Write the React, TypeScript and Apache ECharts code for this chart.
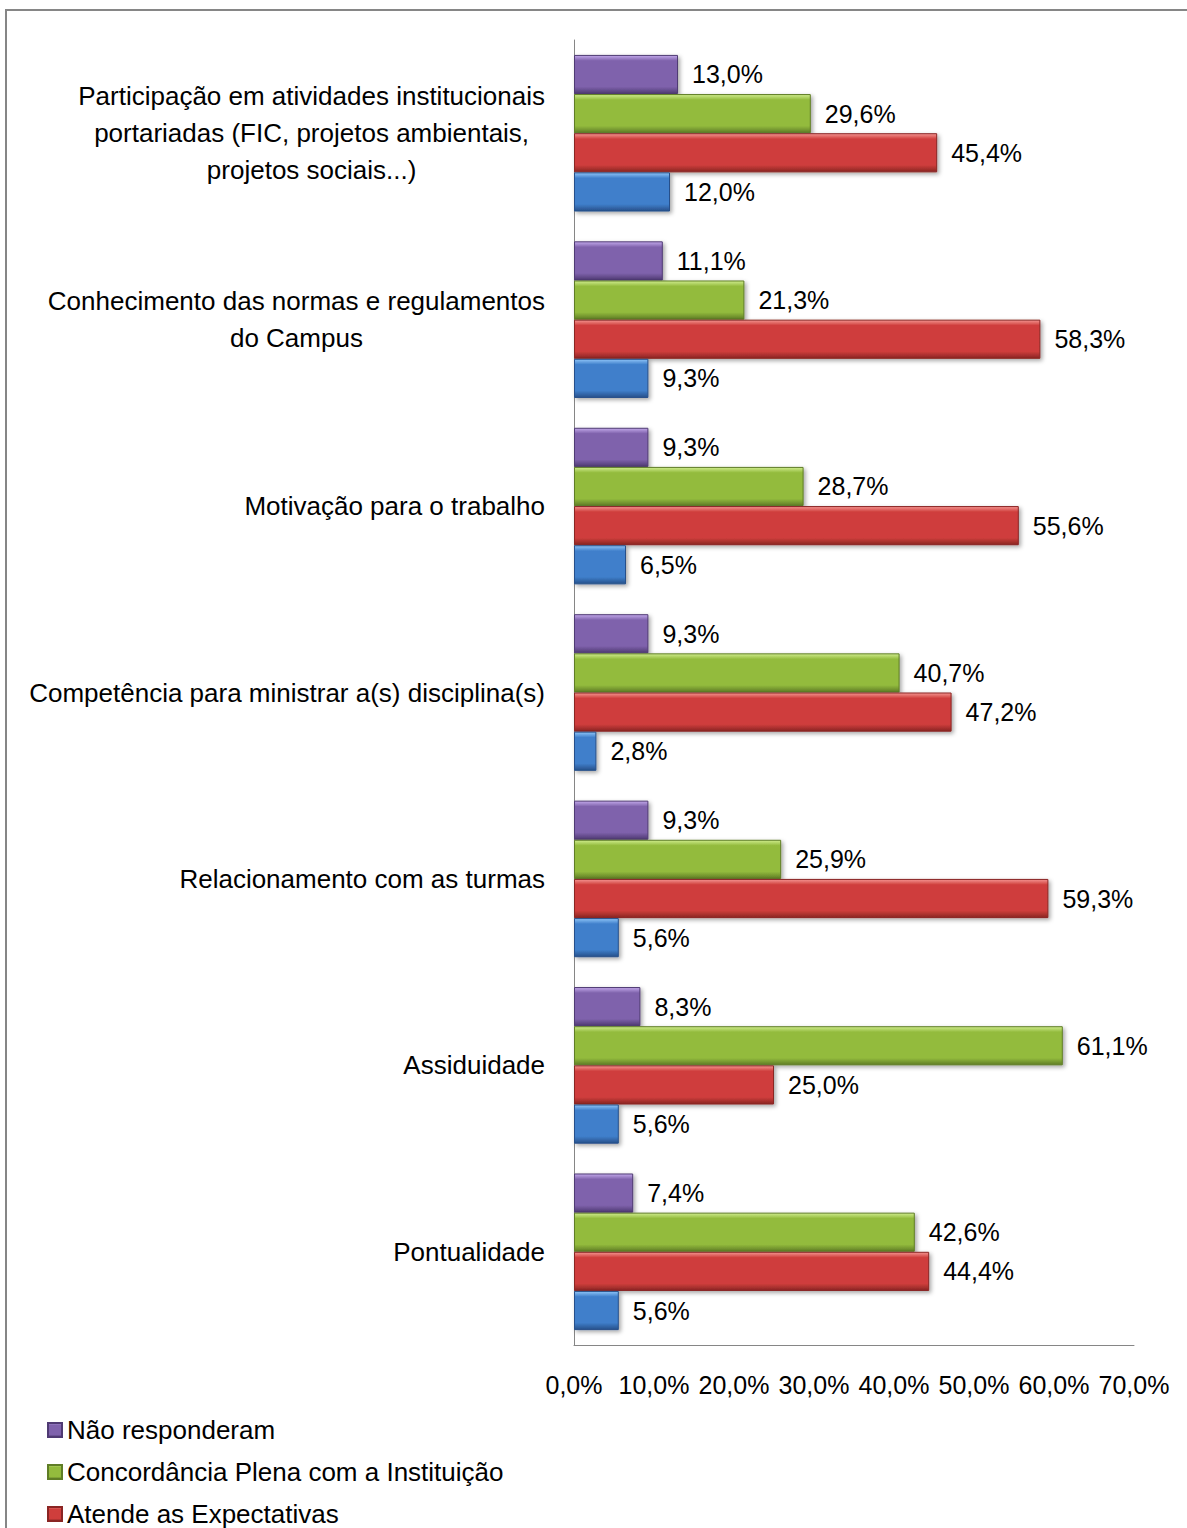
import React, { useEffect, useRef } from "react";
import * as echarts from "echarts";

const categories = [
  "Participação em atividades institucionais\nportariadas (FIC, projetos ambientais,\nprojetos sociais...)",
  "Conhecimento das normas e regulamentos\ndo Campus",
  "Motivação para o trabalho",
  "Competência para ministrar a(s) disciplina(s)",
  "Relacionamento com as turmas",
  "Assiduidade",
  "Pontualidade",
];

const seriesNames = [
  "Não responderam",
  "Concordância Plena com a Instituição",
  "Atende as Expectativas",
  "Não Atende as Expectativas",
];

const naoResponderam = [13.0, 11.1, 9.3, 9.3, 9.3, 8.3, 7.4];
const concordancia = [29.6, 21.3, 28.7, 40.7, 25.9, 61.1, 42.6];
const atende = [45.4, 58.3, 55.6, 47.2, 59.3, 25.0, 44.4];
const naoAtende = [12.0, 9.3, 6.5, 2.8, 5.6, 5.6, 5.6];

const xTicks = [0, 10, 20, 30, 40, 50, 60, 70];

const palettes = [
  { top: "#c2a8ea", mid: "#7f62ac", bot: "#4f3a73" },
  { top: "#cfec8c", mid: "#93bb3d", bot: "#5f7d26" },
  { top: "#f49490", mid: "#cf3e3c", bot: "#8a2523" },
  { top: "#8ec4f7", mid: "#3f7fcb", bot: "#27508a" },
];

const fmt = (v: number) => v.toFixed(1).replace(".", ",") + "%";

function grad(p: { top: string; mid: string; bot: string }) {
  return new echarts.graphic.LinearGradient(0, 0, 0, 1, [
    { offset: 0, color: p.top },
    { offset: 0.14, color: p.mid },
    { offset: 0.82, color: p.mid },
    { offset: 1, color: p.bot },
  ]);
}

export default function App() {
  const ref = useRef<HTMLDivElement>(null);
  useEffect(() => {
    if (!ref.current) return;
    const chart = echarts.init(ref.current, undefined, { renderer: "svg" });
    const datas = [naoResponderam, concordancia, atende, naoAtende];
    const series = datas.map((d, i) => ({
      name: seriesNames[i],
      type: "bar",
      data: d,
      barGap: "0%",
      barCategoryGap: "16%",
      itemStyle: {
        color: grad(palettes[i]),
        borderColor: palettes[i].bot,
        borderWidth: 1,
        shadowColor: "rgba(0,0,0,0.35)",
        shadowBlur: 4,
        shadowOffsetX: 2,
        shadowOffsetY: 2,
      },
      label: {
        show: true,
        position: "right",
        distance: 14,
        color: "#000",
        fontSize: 25,
        fontFamily: "Liberation Sans, Arial, sans-serif",
        formatter: (p: any) => fmt(p.value),
      },
    }));
    chart.setOption({
      animation: false,
      backgroundColor: "#fff",
      graphic: [
        {
          type: "rect",
          shape: { x: 6, y: 10, width: 1300, height: 1700 },
          style: { fill: "none", stroke: "#868686", lineWidth: 2 },
          silent: true,
        },
      ],
      grid: { left: 574, right: 53, top: 40, bottom: 183, containLabel: false },
      legend: {
        type: "plain",
        orient: "vertical",
        left: 42,
        top: 1412,
        height: 240,
        itemWidth: 14,
        itemHeight: 14,
        itemGap: 16,
        icon: "rect",
        data: seriesNames,
        textStyle: {
          fontSize: 26,
          color: "#000",
          fontFamily: "Liberation Sans, Arial, sans-serif",
          padding: [0, 0, 0, 0],
        },
      },
      xAxis: {
        type: "value",
        min: xTicks[0],
        max: xTicks[xTicks.length - 1],
        interval: 10,
        axisLine: { show: true, lineStyle: { color: "#868686", width: 1 } },
        axisTick: { show: false },
        splitLine: { show: false },
        axisLabel: {
          margin: 27,
          fontSize: 25,
          color: "#000",
          fontFamily: "Liberation Sans, Arial, sans-serif",
          formatter: (v: number) => fmt(v),
        },
      },
      yAxis: {
        type: "category",
        inverse: true,
        data: categories,
        axisLine: { show: true, lineStyle: { color: "#868686", width: 1 } },
        axisTick: { show: false },
        axisLabel: {
          margin: 29,
          align: "right",
          formatter: (v: string) =>
            v
              .split("\n")
              .map((l) => `{c|${l}}`)
              .join("\n"),
          rich: {
            c: {
              align: "center",
              fontSize: 26,
              lineHeight: 37,
              color: "#000",
              fontFamily: "Liberation Sans, Arial, sans-serif",
            },
          },
        },
      },
      series,
    });
    return () => chart.dispose();
  }, []);
  return (
    <div
      ref={ref}
      style={{ position: "absolute", left: 0, top: 0, width: 1187, height: 1528 }}
    />
  );
}
